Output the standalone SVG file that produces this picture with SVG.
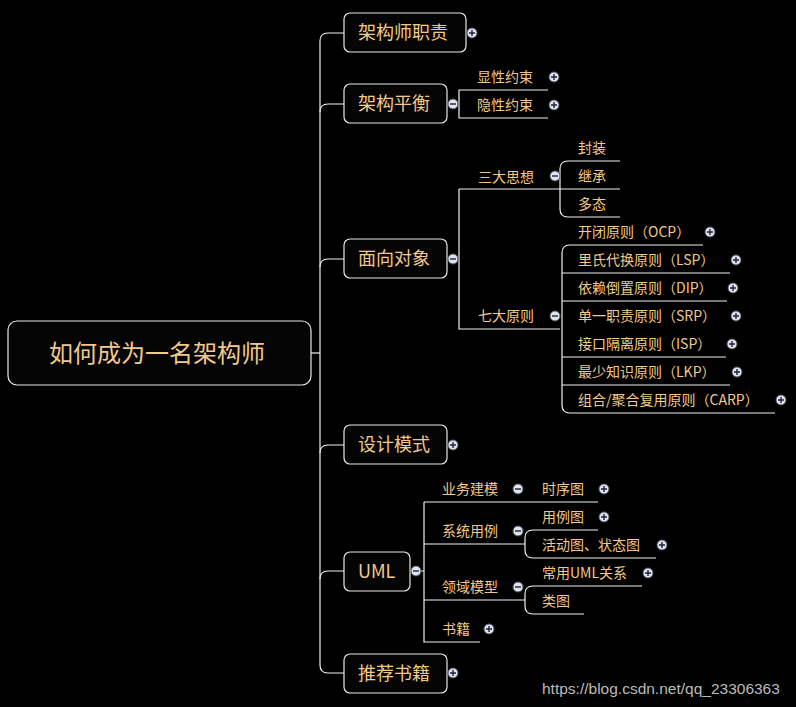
<svg xmlns="http://www.w3.org/2000/svg" width="796" height="707" viewBox="0 0 796 707">
<defs>
<style>
.b{fill:#050505;stroke:#e8e8e8;stroke-width:1.2}
.c{fill:none;stroke:#f0f0f0;stroke-width:1.2}
text{font-family:"Noto Sans CJK SC","Liberation Sans",sans-serif;fill:#f2c98a}
.t1{font-size:18px}
.t2{font-size:14px}
.ici{fill:#dfe4ef;stroke:#556;stroke-width:1}
.icp{stroke:#223;stroke-width:1.4;fill:none}
</style>
<g id="plus"><circle class="ici" cx="0" cy="0" r="5"/><path class="icp" d="M-3 0H3M0 -3V3"/></g>
<g id="minus"><circle class="ici" cx="0" cy="0" r="5"/><path class="icp" d="M-3 0H3"/></g>
</defs>
<rect width="796" height="707" fill="#000"/>
<g id="connectors" class="c">
<path d="M311 353H320"/>
<path d="M344 33H328Q320 33 320 41V665Q320 673 328 673H344"/>
<path d="M320 112Q320 104 328 104H344M320 267Q320 259 328 259H344M320 453Q320 445 328 445H344M320 579Q320 571 328 571H344"/>
<path d="M548 90H459V118H548"/>
<path d="M459 189V329H560M459 189H620M560 189V169Q560 161 568 161H620M560 189V209Q560 217 568 217H620"/>
<path d="M562 329V253Q562 245 570 245H703M562 273H730M562 301H727M562 357H726M562 385H730M562 329V405Q562 413 570 413H775"/>
<path d="M410 571H424M424 502H598M424 502V642H480M424 544H525M424 600H525"/>
<path d="M525 544V538Q525 530 533 530H598M525 544V550Q525 558 533 558H656"/>
<path d="M525 600V594Q525 586 533 586H642M525 600V606Q525 614 533 614H584"/>
</g>
<g id="root"><rect class="b" x="8" y="321" width="303" height="64" rx="9"/><text x="157" y="362" font-size="24" text-anchor="middle">如何成为一名架构师</text></g>
<g id="n1"><rect class="b" x="344" y="13" width="122" height="39" rx="6"/><text class="t1" x="358" y="39">架构师职责</text></g>
<g id="n2"><rect class="b" x="344" y="84" width="103" height="39" rx="6"/><text class="t1" x="358" y="110">架构平衡</text></g>
<g id="n3"><rect class="b" x="344" y="239" width="103" height="39" rx="6"/><text class="t1" x="358" y="265">面向对象</text></g>
<g id="n4"><rect class="b" x="344" y="425" width="103" height="39" rx="6"/><text class="t1" x="358" y="451">设计模式</text></g>
<g id="n5"><rect class="b" x="344" y="552" width="66" height="39" rx="6"/><text class="t1" x="358" y="578">UML</text></g>
<g id="n6"><rect class="b" x="344" y="654" width="103" height="39" rx="6"/><text class="t1" x="358" y="680">推荐书籍</text></g>
<g id="labels">
<text class="t2" x="477" y="82">显性约束</text>
<text class="t2" x="477" y="110">隐性约束</text>
<text class="t2" x="478" y="182">三大思想</text>
<text class="t2" x="578" y="153">封装</text>
<text class="t2" x="578" y="181">继承</text>
<text class="t2" x="578" y="209">多态</text>
<text class="t2" x="478" y="321">七大原则</text>
<text class="t2" x="578" y="237">开闭原则（OCP）</text>
<text class="t2" x="578" y="265">里氏代换原则（LSP）</text>
<text class="t2" x="578" y="293">依赖倒置原则（DIP）</text>
<text class="t2" x="578" y="321">单一职责原则（SRP）</text>
<text class="t2" x="578" y="349">接口隔离原则（ISP）</text>
<text class="t2" x="578" y="377">最少知识原则（LKP）</text>
<text class="t2" x="578" y="405">组合/聚合复用原则（CARP）</text>
<text class="t2" x="442" y="494">业务建模</text>
<text class="t2" x="542" y="494">时序图</text>
<text class="t2" x="442" y="536">系统用例</text>
<text class="t2" x="542" y="522">用例图</text>
<text class="t2" x="542" y="550">活动图、状态图</text>
<text class="t2" x="442" y="592">领域模型</text>
<text class="t2" x="542" y="578">常用UML关系</text>
<text class="t2" x="542" y="606">类图</text>
<text class="t2" x="442" y="634">书籍</text>
</g>
<g id="icons">
<use href="#plus" x="472" y="33"/><use href="#minus" x="453" y="104"/><use href="#minus" x="453" y="259"/>
<use href="#plus" x="453" y="445"/><use href="#minus" x="416" y="571"/><use href="#plus" x="453" y="673"/>
<use href="#plus" x="554" y="77"/><use href="#plus" x="554" y="105"/><use href="#minus" x="555" y="176"/><use href="#minus" x="555" y="316"/>
<use href="#plus" x="710" y="232"/><use href="#plus" x="736" y="260"/><use href="#plus" x="733" y="288"/><use href="#plus" x="736" y="316"/>
<use href="#plus" x="732" y="344"/><use href="#plus" x="737" y="372"/><use href="#plus" x="781" y="400"/>
<use href="#minus" x="518" y="489"/><use href="#plus" x="604" y="489"/><use href="#minus" x="518" y="531"/><use href="#plus" x="604" y="517"/>
<use href="#plus" x="662" y="545"/><use href="#minus" x="518" y="587"/><use href="#plus" x="648" y="573"/><use href="#plus" x="489" y="629"/>
</g>
<text x="542" y="694" font-size="15.5" style="fill:#bbbbbb;font-family:'Liberation Sans',sans-serif">https://blog.csdn.net/qq_23306363</text>
</svg>
